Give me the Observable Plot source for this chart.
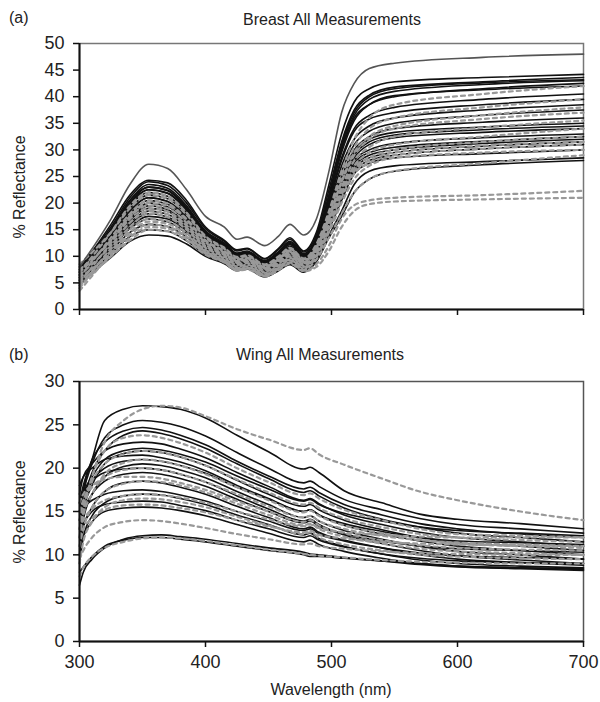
<!DOCTYPE html>
<html><head><meta charset="utf-8">
<script src="https://cdn.jsdelivr.net/npm/d3@7"></script>
<script src="https://cdn.jsdelivr.net/npm/@observablehq/plot@0.6"></script>
<style>
body{margin:0;background:#fff;font-family:"Liberation Sans",Arial,sans-serif}
#wrap{position:relative;width:600px;height:702px;overflow:hidden}
.t{position:absolute;font-size:16px;color:#222;white-space:nowrap;line-height:18px}
.c{transform:translateX(-50%)}
.r{transform:translate(-50%,-50%) rotate(-90deg)}
#topPanel,#botPanel{position:absolute;left:0}
#topPanel{top:0}#botPanel{top:330px}
#wrap svg text{font-size:18px !important;font-family:"Liberation Sans",Arial,sans-serif;fill:#222}
</style></head><body>
<div id="wrap">
<div id="topPanel"></div><div id="botPanel"></div>
<div class="t" style="left:9px;top:9px">(a)</div>
<div class="t c" style="left:332px;top:11px">Breast All Measurements</div>
<div class="t" style="left:9px;top:346px">(b)</div>
<div class="t c" style="left:320px;top:346px">Wing All Measurements</div>
<div class="t c" style="left:331px;top:681px">Wavelength (nm)</div>
<div class="t r" style="left:20px;top:187px">% Reflectance</div>
<div class="t r" style="left:20px;top:512px">% Reflectance</div>
</div>
<script>
// ---------- Breast panel ----------
const breastWavelengths = [300,325,340,355,370,385,400,415,425,433,447,458,467,478,488,498,508,518,530,550,620,700];
const breastTopGrey = [
 [8,17,23.5,27.3,26.5,22.5,17.5,15.5,13.2,13.6,12,13.8,16,14,17,26,37,42.5,45.3,46.3,47.4,48]
];
const breastBlack = [
 [7.5,16,21.5,24.3,23.8,20.5,15.5,13,11.2,11.5,9.6,11.5,13.5,11,14.5,23.5,33,39,41.5,42.8,43.6,44.2],
 [8,15.5,21,24,23.3,20,15.2,12.8,11,11.4,9.5,11.3,13.2,10.8,14,22.5,31.5,37.5,40.3,41.8,42.8,43.6],
 [7,15,20.5,23.5,22.8,19.5,14.8,12.5,10.6,11,9.2,10.9,12.8,10.5,13.5,21.5,30.5,36.5,39.5,41,42.3,43],
 [6.5,14.5,20,23,22.3,19,14.5,12.2,10.4,10.7,9,10.7,12.4,10.2,13,21,30,36,38.5,40,41.5,42.5],
 [7,15,20.5,23,22.4,19.2,14.6,12.3,10.5,10.8,9.1,10.8,12.6,10.3,13.3,21.5,31,37,40,41.5,42.6,43.2],
 [6,14,19.5,22.5,21.9,18.8,14.3,12.1,10.3,10.6,8.9,10.5,12.2,10.1,13,21,29.5,35.5,38.5,40.2,41.3,42],
 [7.5,15,20,22.5,21.8,18.6,14.2,12,10.2,10.5,8.8,10.4,11.9,10,12.8,20.5,28.5,34,36.5,38,39.5,40.5],
 [6,14,19.5,22,21.3,18.2,14,11.8,10,10.3,8.6,10.2,11.6,9.8,12.5,20,28,33.5,35.8,37,38.5,39.5],
 [7,14,19,21.5,20.8,17.8,13.6,11.5,9.8,10.1,8.4,10,11.4,9.6,12.3,19.5,27,32,34.5,36,37.5,38.5],
 [5.5,13.5,18.5,21,20.3,17.4,13.4,11.3,9.7,10,8.2,9.8,11.2,9.4,12,19,26,31,33.5,35,36.5,37.5],
 [6.5,13.5,18.5,21,20.3,17.3,13.2,11.1,9.5,9.8,8,9.6,11,9.2,11.8,18.5,25,30,32.5,34,35.2,36],
 [6,13,18,20.5,19.8,17,13,11,9.4,9.7,7.9,9.5,10.8,9,11.5,18,24.5,29.5,32,33.3,34.3,35],
 [7,13,17.5,20,19.3,16.6,12.8,10.8,9.2,9.5,7.7,9.3,10.6,8.8,11.3,17.5,24,29,31.5,32.8,33.8,34.5],
 [5,12.5,17,19.5,18.8,16.2,12.5,10.6,9,9.3,7.5,9.1,10.4,8.6,11.1,17,23.5,28.5,31,32.3,33.3,34],
 [6,12.5,16.8,19,18.4,15.8,12.2,10.4,8.8,9.1,7.3,8.9,10.2,8.4,10.9,17,23,28,30,31.2,32.3,33],
 [5.5,12,16.3,18.5,17.9,15.4,11.9,10.1,8.6,8.9,7.1,8.7,10,8.2,10.7,16.5,22.5,27.5,29.5,30.5,31.6,32.5],
 [6.5,12,16,18,17.4,15,11.6,9.9,8.4,8.7,7,8.5,9.8,8,10.5,16,22,27,29,30,31.2,32],
 [5,11.5,15.5,17.5,17,14.7,11.4,9.7,8.2,8.5,6.8,8.3,9.6,7.8,10.3,16,21.5,26.5,28.5,29.5,30.7,31.5],
 [6,11.5,15.2,17,16.5,14.3,11.1,9.5,8,8.3,6.6,8.1,9.3,7.6,10,15.5,21,26,28,29,30.2,31],
 [5.5,11,14.5,16,15.6,13.6,10.7,9.2,7.8,8.1,6.5,7.9,9,7.4,9.7,15,20.5,25.5,27.5,28.5,29.3,30],
 [4.5,10.5,13.7,15,14.7,12.9,10.3,8.9,7.5,7.8,6.3,7.6,8.7,7.2,9.3,14,18.5,23.5,26,27,27.8,28.5],
 [5,9.8,12.8,14,13.8,12.3,10,8.6,7.3,7.6,6.1,7.3,8.4,7,9,13.5,17.5,22,24.5,26,27.2,28]
];
const breastGrey = [
 [7,14.5,19.5,22,21.3,18.2,13.8,11.6,9.9,10.2,8.5,10,11.6,9.6,12.3,18.5,26,32,36,38.5,40.5,42],
 [8.5,14.5,19,21.5,20.8,17.8,13.5,11.4,9.7,10,8.3,9.8,11.4,9.4,12,18,25,30.5,34,36,38,39.5],
 [7,13,17.5,20,19.5,16.8,12.9,10.9,9.3,9.6,7.9,9.4,10.9,9,11.5,17,24,29.5,32.5,34.5,36.5,38],
 [6,13.5,18,20.5,19.9,17,13,11,9.4,9.7,8,9.5,11.1,9.2,11.7,17.5,24,29,32,34,35.8,37],
 [7.5,13,17.5,19.5,19,16.3,12.6,10.7,9.1,9.4,7.8,9.3,10.8,8.9,11.4,17,23,28,30.5,32.5,34.2,35.5],
 [5,12.5,17,19,18.4,15.8,12.2,10.4,8.9,9.2,7.6,9.1,10.6,8.7,11.1,16.5,22.5,27,29.5,31,32.5,34],
 [6.5,12,16.3,18.5,17.9,15.4,11.9,10.2,8.7,9,7.4,8.9,10.3,8.5,10.9,16,22,26.5,28.5,30,31.5,32.5],
 [4,11.5,15.5,18,17.4,15,11.6,9.9,8.4,8.7,7.1,8.6,10,8.2,10.5,15.5,21.5,26,28,29.5,30.8,31.5],
 [5.5,11,15,17,16.6,14.4,11.2,9.6,8.1,8.4,6.9,8.3,9.7,8,10.2,15,21,25.5,27.5,29,30.2,31],
 [3.5,10.5,14.5,16.5,16.1,14,10.9,9.3,7.8,8.1,6.6,8,9.4,7.7,9.9,14.5,20,24.5,27,28.5,29.5,30],
 [6,10.5,14,16,15.6,13.7,10.7,9.1,7.6,7.9,6.4,7.8,9.2,7.5,9.4,13.5,18,22,24.5,26,27.5,29],
 [4.5,10,13.5,15.5,15.2,13.3,10.5,8.9,7.4,7.7,6.3,7.6,8.8,7.3,8.5,12,17,19.6,20.5,21,21.5,22.3],
 [5,10,13,15,14.7,13,10.3,8.8,7.3,7.5,6.2,7.4,8.6,7.2,8,11,15.5,18.5,19.8,20.3,20.7,21]
];
const breastYTicks = [0,5,10,15,20,25,30,35,40,45,50];

// ---------- Wing panel ----------
const wingWavelengths = [300,303,310,320,335,350,365,380,400,425,450,478,483,490,510,540,570,600,650,700];
const wingBlack = [
 [15,17.5,21,25.5,26.8,27.2,27.1,26.8,25.8,23.8,21.9,19.9,20.1,19.5,17.4,16,14.7,14.1,13.6,13],
 [14,17,20.5,23.5,25,25.5,25.3,24.8,23.7,21.8,20,18.3,18.5,17.9,16.4,15.2,14.2,13.5,13,12.5],
 [16,18,21,23,24.3,24.7,24.4,23.8,22.7,20.8,19.1,17.6,17.8,17.2,15.8,14.6,13.6,13,12.4,12],
 [13,16,19.5,22,23.8,24.3,24,23.4,22.3,20.5,18.8,17.2,17.4,16.8,15.4,14.1,13.2,12.5,12,11.5],
 [17,19,20.5,22,22.8,23,22.8,22.2,21.2,19.5,17.9,16.3,16.5,15.9,14.6,13.5,12.6,12,11.5,11],
 [15,17,19,21,22,22.3,22.1,21.6,20.7,19.1,17.6,16.2,16.4,15.8,14.8,13.9,13.2,12.8,12.5,12.2],
 [12,15,18,20.5,21.7,22,21.8,21.3,20.3,18.6,17,15.6,15.8,15.2,14,12.9,12,11.4,11,10.5],
 [18,19,20,21,21.4,21.5,21.2,20.7,19.7,18,16.5,15,15.2,14.6,13.4,12.4,11.6,11,10.5,10],
 [14,16,18.5,20,20.8,21,20.8,20.3,19.4,17.8,16.4,15,15.2,14.6,13.6,12.7,12,11.6,11.4,11.2],
 [11,14,17,19,20.2,20.5,20.3,19.8,18.9,17.3,15.8,14.3,14.5,13.9,12.8,11.8,11,10.4,10,9.5],
 [16,17,18.5,19.5,19.9,20,19.8,19.3,18.4,16.8,15.3,13.9,14.1,13.5,12.3,11.3,10.5,9.9,9.4,9],
 [13,15,17,18.5,19.3,19.5,19.3,18.8,17.9,16.4,15,13.7,13.9,13.3,12.4,11.6,11,10.7,10.5,10.3],
 [10,13,15.5,17.3,18.3,18.5,18.3,17.8,17,15.6,14.3,13,13.2,12.6,11.7,10.8,10,9.5,9.1,8.8],
 [15,15.5,16.3,17,17.4,17.5,17.3,16.9,16.2,15,13.9,12.8,13,12.4,11.6,10.8,10.2,9.9,9.7,9.5],
 [9,12,14.5,16,16.8,17,16.9,16.5,15.8,14.6,13.5,12.3,12.5,11.9,11,10.1,9.4,9,8.7,8.5],
 [12,13.5,15,15.8,16.1,16.2,16.1,15.7,15.1,14,13,12,12.2,11.7,10.9,10.1,9.6,9.3,9.1,9],
 [10,12,13.8,15,15.4,15.5,15.4,15.1,14.5,13.5,12.5,11.5,11.7,11.2,10.4,9.6,9,8.7,8.5,8.3],
 [6.5,8,9.5,10.8,11.8,12.2,12.3,12.1,11.8,11.3,10.8,10.3,10.1,10,9.7,9.3,8.9,8.6,8.4,8.2],
 [8,8.6,9.8,11,11.7,12,12,11.8,11.5,11,10.5,10,9.8,9.8,9.6,9.3,9,8.7,8.5,8.4]
];
const wingGrey = [
 [13,15,19,23,25.5,26.8,27.2,27,26,24.5,23.3,22.1,22.3,21.6,20.4,18.8,17.3,16.3,15,14],
 [12,15,19,22,23.5,23.8,23.5,22.9,21.8,20,18.4,16.9,17.1,16.5,15.2,14,13,12.4,12.2,12],
 [14,16,18.5,20.5,21.6,22,21.8,21.3,20.3,18.7,17.2,15.8,16,15.4,14.2,13.2,12.4,12,11.7,11.5],
 [12,14.5,17,19.3,20.6,21,20.8,20.3,19.3,17.8,16.3,14.9,15.1,14.5,13.4,12.5,11.8,11.3,11,10.8],
 [15,16.3,17.8,19,19.8,20,19.8,19.3,18.4,17,15.6,14.3,14.5,13.9,13,12.2,11.7,11.4,11.2,11],
 [16,17,18,18.7,19,19,18.8,18.3,17.5,16.2,15,13.8,14,13.4,12.5,11.7,11.1,10.8,10.6,10.5],
 [11,13,15.5,17.3,18.2,18.5,18.4,18,17.2,15.9,14.6,13.4,13.6,13,12.1,11.3,10.7,10.4,10.2,10],
 [13,14,15.3,16.3,16.8,17,16.9,16.6,16,15,14.1,13.3,13.5,13.1,12.6,12.3,12.1,12,12,12],
 [9,11.5,13.8,15.5,16.3,16.5,16.4,16.1,15.5,14.4,13.4,12.4,12.6,12,11.2,10.5,10,9.8,9.6,9.5],
 [12,13,14.2,15.2,15.7,15.8,15.7,15.4,14.9,14,13.3,12.6,12.8,12.3,11.9,11.5,11.3,11.2,11.1,11],
 [9.5,10.5,12,13.2,13.8,14,13.9,13.6,13.1,12.4,11.8,11.2,11.3,11,10.7,10.4,10.2,10.1,10,10],
 [7.5,8.5,9.8,10.8,11.5,11.9,12,11.9,11.6,11.1,10.6,10.1,10,9.9,9.7,9.4,9.2,9.1,9,9]
];
const wingYTicks = [0,5,10,15,20,25,30];
const xTicks = [300,400,500,600,700];

function toRows(wl, curves, group) {
  const rows = [];
  curves.forEach((vals, k) => vals.forEach((v, i) => rows.push({x: wl[i], y: v, id: group + k})));
  return rows;
}

const font = {fontFamily: "'Liberation Sans', Arial, sans-serif", fontSize: "18px", color: "#222", background: "#fff", overflow: "visible"};

const bTop = toRows(breastWavelengths, breastTopGrey, "t");
const bBlack = toRows(breastWavelengths, breastBlack, "b");
const bGrey = toRows(breastWavelengths, breastGrey, "g");

const breastChart = Plot.plot({
  width: 600, height: 330,
  marginLeft: 79, marginRight: 17, marginTop: 43, marginBottom: 21,
  style: font,
  x: {domain: [300, 700]},
  y: {domain: [0, 50]},
  marks: [
    Plot.frame({stroke: "#777", strokeWidth: 1.5}),
    Plot.line(bBlack, {x: "x", y: "y", z: "id", stroke: "#111", strokeWidth: 1.6, curve: "monotone-x"}),
    Plot.line(bGrey, {x: "x", y: "y", z: "id", stroke: "#999", strokeWidth: 2.2, strokeDasharray: "4,4", curve: "monotone-x"}),
    Plot.line(bTop, {x: "x", y: "y", z: "id", stroke: "#555", strokeWidth: 1.6, curve: "monotone-x"}),
    Plot.ruleY([0], {stroke: "#111", strokeWidth: 2}),
    Plot.ruleX([300], {stroke: "#111", strokeWidth: 2}),
    Plot.axisY({ticks: breastYTicks, tickSize: 6, tickPadding: 9, fontSize: 18, label: null, stroke: "#111", strokeWidth: 1.5}),
    Plot.axisX({ticks: xTicks, tickSize: 6, tickFormat: () => "", label: null, stroke: "#111", strokeWidth: 1.5})
  ]
});
document.getElementById("topPanel").appendChild(breastChart);

const wBlack = toRows(wingWavelengths, wingBlack, "b");
const wGrey = toRows(wingWavelengths, wingGrey, "g");

const wingChart = Plot.plot({
  width: 600, height: 372,
  marginLeft: 79, marginRight: 17, marginTop: 51, marginBottom: 61,
  style: font,
  x: {domain: [300, 700]},
  y: {domain: [0, 30]},
  marks: [
    Plot.frame({stroke: "#555", strokeWidth: 1.5}),
    Plot.line(wBlack, {x: "x", y: "y", z: "id", stroke: "#111", strokeWidth: 1.6, curve: "monotone-x"}),
    Plot.line(wGrey, {x: "x", y: "y", z: "id", stroke: "#999", strokeWidth: 2.2, strokeDasharray: "4,4", curve: "monotone-x"}),
    Plot.ruleY([0], {stroke: "#111", strokeWidth: 2}),
    Plot.ruleX([300], {stroke: "#111", strokeWidth: 2}),
    Plot.axisY({ticks: wingYTicks, tickSize: 6, tickPadding: 9, fontSize: 18, label: null, stroke: "#111", strokeWidth: 1.5}),
    Plot.axisX({ticks: xTicks, tickSize: 6, tickPadding: 8, fontSize: 18, label: null, stroke: "#111", strokeWidth: 1.5})
  ]
});
document.getElementById("botPanel").appendChild(wingChart);
</script>
</body></html>
